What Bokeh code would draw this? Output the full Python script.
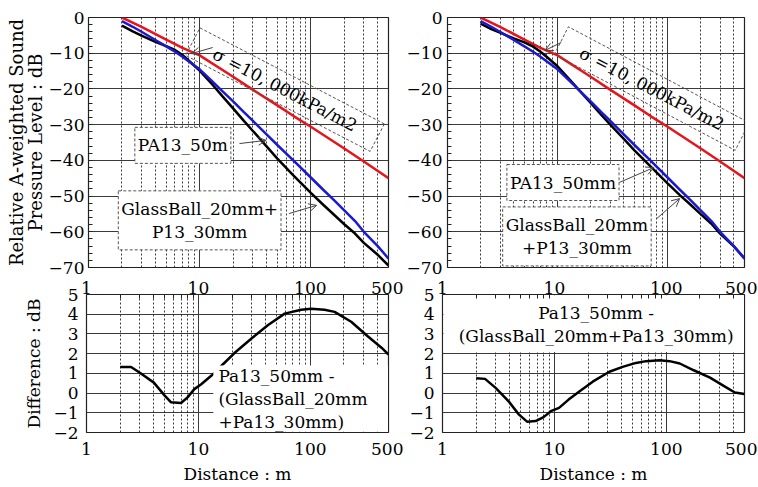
import math
from bokeh.plotting import figure
from bokeh.layouts import column, row
from bokeh.models import (FixedTicker, Label, Arrow, OpenHead, Range1d,
                          BasicTickFormatter, LogAxis)
from bokeh.embed import file_html
from bokeh.resources import INLINE

FONT = "DejaVu Serif"
FS = "17px"

# ---------------- data ----------------
distance = [2, 2.5, 3, 4, 5, 6, 7, 8, 10, 13, 16, 20, 25, 30, 40, 50, 70,
            100, 130, 160, 200, 250, 300, 400, 500]
pa13_50mm = [-1.0, -2.6, -4.0, -6.3, -8.1, -9.6, -11.0, -12.3, -14.5, -17.9,
             -20.6, -23.5, -26.5, -28.9, -32.7, -35.7, -40.1, -44.8, -48.3,
             -51.0, -54.0, -57.0, -60.0, -64.0, -67.5]
glass20_pa13_30_left = [-2.3, -3.9, -5.05, -6.8, -8.0, -9.1, -10.5, -12.1,
                        -14.85, -18.75, -22.0, -25.45, -28.95, -31.7, -36.1,
                        -39.5, -44.25, -49.1, -52.5, -55.1, -57.9, -60.5,
                        -63.1, -66.45, -69.45]
glass20_pa13_30_right = [-1.75, -3.25, -4.25, -5.85, -6.95, -8.15, -9.6,
                         -11.08, -13.65, -17.5, -20.6, -23.9, -27.3, -29.95,
                         -34.0, -37.2, -41.7, -46.45, -49.8, -52.3, -55.05,
                         -57.75, -60.5, -64.1, -67.45]
red_distance = [2, 3, 5, 7, 10, 20, 30, 50, 70, 100, 200, 300, 500]
sigma_10000 = [0.0, -2.6, -6.2, -8.5, -10.6, -16.6, -20.2, -24.6, -27.6,
               -30.6, -36.7, -40.3, -45.0]

diff_left_x = [2, 2.5, 3, 4, 5, 5.7, 7, 8, 9.2, 10.6, 14, 16.5, 21, 30, 42,
               59, 83, 102, 134, 165, 232, 328, 433, 500]
diff_left_y = [1.32, 1.32, 1.03, 0.53, -0.13, -0.47, -0.5, -0.22, 0.2, 0.45,
               1.03, 1.45, 2.03, 2.78, 3.45, 4.03, 4.23, 4.28, 4.23, 4.12,
               3.62, 2.87, 2.3, 1.95]
diff_right_x = [2, 2.4, 3, 3.9, 4.8, 5.7, 6.8, 8, 9.3, 11, 13.4, 16.7, 22,
                31, 40.7, 53.6, 66, 87, 107, 132, 174, 246, 323, 410, 500]
diff_right_y = [0.75, 0.72, 0.25, -0.42, -1.08, -1.45, -1.42, -1.22, -0.92,
                -0.75, -0.33, 0.08, 0.58, 1.08, 1.33, 1.53, 1.62, 1.67, 1.62,
                1.5, 1.17, 0.78, 0.38, 0.03, -0.05]

x_ticks = [1, 10, 100, 500]
x_minor = [2, 3, 4, 5, 6, 7, 8, 9, 20, 30, 40, 50, 60, 70, 80, 90, 200, 300, 400]
top_y_ticks = [-70, -60, -50, -40, -30, -20, -10, 0]
top_y_minor = [v for v in range(-70, 1, 2)]
bot_y_ticks = [-2, -1, 0, 1, 2, 3, 4, 5]

GRID = "#3a3a3a"
RED = "#e8141c"
BLUE = "#1a1ad0"


def style_axis(ax):
    ax.axis_line_color = None
    ax.major_tick_in = 0
    ax.major_tick_out = 0
    ax.minor_tick_out = 0
    ax.minor_tick_in = 0
    ax.major_label_text_font = FONT
    ax.major_label_text_font_size = FS
    ax.major_label_text_color = "black"
    ax.axis_label_text_font = FONT
    ax.axis_label_text_font_size = FS
    ax.axis_label_text_font_style = "normal"
    ax.axis_label_text_color = "black"


def make_fig(w, h, yr, yticks, yminor, left, right, top, bottom):
    p = figure(x_axis_type="log", x_range=Range1d(1, 500),
               y_range=Range1d(*yr), width=w, height=h,
               min_border_left=left, min_border_right=right,
               min_border_top=top, min_border_bottom=bottom,
               toolbar_location=None, output_backend="svg")
    xt = FixedTicker(ticks=x_ticks, minor_ticks=x_minor)
    yt = FixedTicker(ticks=yticks, minor_ticks=yminor)
    p.xaxis.ticker = xt
    p.yaxis.ticker = yt
    p.xgrid.ticker = xt
    p.ygrid.ticker = yt
    p.xaxis.formatter = BasicTickFormatter()
    p.xgrid.grid_line_color = GRID
    p.xgrid.minor_grid_line_color = GRID
    p.xgrid.minor_grid_line_dash = "2 2"
    p.ygrid.grid_line_color = GRID
    p.outline_line_color = "#222222"
    p.outline_line_width = 1.2
    style_axis(p.xaxis[0])
    style_axis(p.yaxis[0])
    p.yaxis.minor_tick_in = 4
    p.yaxis.minor_tick_line_color = "#222222"
    p.background_fill_color = "white"
    p.border_fill_color = "white"
    return p


def add_top_axis(p):
    ax = LogAxis(ticker=FixedTicker(ticks=x_ticks, minor_ticks=x_minor),
                 formatter=BasicTickFormatter())
    style_axis(ax)
    ax.major_label_standoff = 1
    ax.minor_tick_in = 4
    ax.minor_tick_line_color = "#222222"
    p.add_layout(ax, "above")


def text_label(p, x, y, text, align="center", angle=0.0, size=FS):
    p.add_layout(Label(x=x, y=y, text=text, angle=angle,
                       text_font=FONT, text_font_size=size,
                       text_color="black", text_align=align,
                       text_baseline="middle", text_line_height=1.15))


def box_label(p, x, y, text, pad=(3, 8)):
    p.add_layout(Label(x=x, y=y, text=text,
                       text_font=FONT, text_font_size=FS, text_color="black",
                       text_align="center", text_baseline="middle",
                       text_line_height=1.15,
                       background_fill_color="white",
                       border_line_color="#555555",
                       border_line_dash="3 2", border_line_width=1,
                       padding=pad))


def rotated_box_label(p, x, y, text, ang_deg, half_len, half_wid, fw, fh,
                      yspan):
    # dashed rectangle rotated with the text (computed in screen space)
    dec = fw / math.log10(500)
    ppu = fh / yspan
    X = math.log10(x) * dec
    Y = y * ppu
    a = math.radians(ang_deg)
    ux, uy = math.cos(a), math.sin(a)
    vx, vy = -uy, ux
    xs, ys = [], []
    for s, t in [(1, 1), (1, -1), (-1, -1), (-1, 1)]:
        px = X + s * half_len * ux + t * half_wid * vx
        py = Y + s * half_len * uy + t * half_wid * vy
        xs.append(10 ** (px / dec))
        ys.append(py / ppu)
    p.patch(xs, ys, fill_alpha=0, line_color="#555555", line_dash="3 2",
            line_width=1)
    text_label(p, x, y, text, angle=math.radians(ang_deg))


def arrow(p, xs, ys, xe, ye):
    p.add_layout(Arrow(end=OpenHead(size=8, line_color="#444444",
                                    line_width=1),
                       x_start=xs, y_start=ys, x_end=xe, y_end=ye,
                       line_color="#444444", line_width=1))


TOP_FH = 250
BOT_FH = 140

# ---------------- top-left ----------------
tl = make_fig(403, 274, (-70, 0), top_y_ticks, top_y_minor, 88, 15, 17, 7)
tl.xaxis.visible = False
tl.yaxis.major_label_standoff = 4
tl.yaxis.axis_label = "Relative A-weighted Sound\nPressure Level : dB"
tl.yaxis.axis_label_standoff = 0
tl.yaxis.axis_label_text_font_size = "18px"
tl.yaxis.axis_label_text_line_height = 0.9
tl.line(red_distance, sigma_10000, color=RED, line_width=2.5)
tl.line(distance, glass20_pa13_30_left, color="black", line_width=2.5)
tl.line(distance, pa13_50mm, color=BLUE, line_width=2.5)
rotated_box_label(tl, 58.6, -20.2, "σ =10, 000kPa/m2", -27.5, 104, 15.5,
                  300, TOP_FH, 70)
arrow(tl, 13.1, -8.4, 8.5, -10.1)
box_label(tl, 7.06, -35.8, "PA13_50m")
arrow(tl, 22.8, -35.3, 39.6, -34.4)
box_label(tl, 10.0, -56.8, "GlassBall_20mm+\nP13_30mm")
arrow(tl, 63.6, -54.9, 112.9, -52.6)

# ---------------- top-right ----------------
tr = make_fig(354, 274, (-70, 0), top_y_ticks, top_y_minor, 38, 13, 17, 7)
tr.xaxis.visible = False
tr.yaxis.major_label_standoff = 5
tr.line(red_distance, sigma_10000, color=RED, line_width=2.5)
tr.line(distance, glass20_pa13_30_right, color="black", line_width=2.5)
tr.line(distance, pa13_50mm, color=BLUE, line_width=2.5)
rotated_box_label(tr, 71.9, -19.9, "σ =10, 000kPa/m2", -27.5, 104, 15.5,
                  303, TOP_FH, 70)
arrow(tr, 10.8, -7.0, 7.7, -9.2)
box_label(tr, 11.2, -46.2, "PA13_50mm")
arrow(tr, 36.4, -46.2, 75.0, -42.0)
box_label(tr, 15.0, -61.3, "GlassBall_20mm\n+P13_30mm")
arrow(tr, 79.7, -56.3, 128.7, -50.7)

# ---------------- bottom-left ----------------
bl = make_fig(403, 212, (-2, 5), bot_y_ticks, [], 86, 15, 20, 52)
add_top_axis(bl)
bl.yaxis.major_label_standoff = 8
bl.yaxis.axis_label = "Difference : dB"
bl.yaxis.axis_label_standoff = 6
bl.below[0].major_label_standoff = 10
bl.below[0].axis_label = "Distance : m"
bl.below[0].axis_label_standoff = 6
bl.line(diff_left_x, diff_left_y, color="black", line_width=2.5)
bl.quad(left=13.6, right=495, bottom=-1.96, top=1.4, fill_color="white",
        line_color=None)
text_label(bl, 15.1, -0.3, "Pa13_50mm -\n(GlassBall_20mm\n+Pa13_30mm)",
           align="left")

# ---------------- bottom-right ----------------
br = make_fig(354, 212, (-2, 5), bot_y_ticks, [], 39, 13, 20, 52)
add_top_axis(br)
br.yaxis.major_label_standoff = 8
br.below[0].major_label_standoff = 10
br.below[0].axis_label = "Distance : m"
br.below[0].axis_label_standoff = 6
br.line(diff_right_x, diff_right_y, color="black", line_width=2.5)
br.quad(left=1.02, right=495, bottom=2.08, top=4.96, fill_color="white",
        line_color=None)
text_label(br, 23.6, 3.5, "Pa13_50mm -\n(GlassBall_20mm+Pa13_30mm)")

layout = column(row(tl, tr, spacing=0), row(bl, br, spacing=0), spacing=0)
open("out.html", "w").write(file_html(layout, INLINE))
